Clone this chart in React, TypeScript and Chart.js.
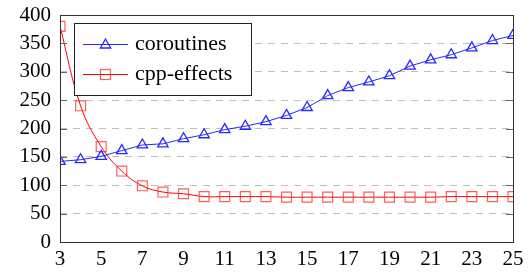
import React, { useEffect, useRef } from 'react';
import { Chart, registerables } from 'chart.js';

Chart.register(...registerables);

const xValues = [3, 4, 5, 6, 7, 8, 9, 10, 11, 12, 13, 14, 15, 16, 17, 18, 19, 20, 21, 22, 23, 24, 25];
const coroutines = [142, 145, 151, 161, 171, 173, 182, 189, 198, 204, 212, 223, 237, 258, 272, 282, 293, 310, 321, 330, 342, 355, 364];
const cppEffects = [380, 240, 168, 125, 99, 88, 85, 80, 80, 80, 80, 79, 79, 79, 79, 79, 79, 79, 79, 80, 80, 80, 80];
const xTicks = [3, 5, 7, 9, 11, 13, 15, 17, 19, 21, 23, 25];
const yTicks = [0, 50, 100, 150, 200, 250, 300, 350, 400];
const seriesLabels = ['coroutines', 'cpp-effects'];

const FONT = 'Liberation Serif';
const BLUE = 'rgb(40,40,255)';
const RED = 'rgb(255,0,0)';
const RED_MARK = 'rgba(255,40,40,0.75)';

function drawTriangle(ctx: CanvasRenderingContext2D, x: number, y: number, r: number) {
  ctx.beginPath();
  ctx.moveTo(x, y - r);
  ctx.lineTo(x + r * Math.sin((2 * Math.PI) / 3), y - r * Math.cos((2 * Math.PI) / 3));
  ctx.lineTo(x + r * Math.sin((4 * Math.PI) / 3), y - r * Math.cos((4 * Math.PI) / 3));
  ctx.closePath();
  ctx.stroke();
}

const framePlugin = {
  id: 'frame',
  afterDatasetsDraw(chart: any) {
    const { ctx, chartArea: a, scales } = chart;
    ctx.save();
    ctx.lineWidth = 1;
    ctx.strokeStyle = '#666';
    yTicks.forEach((v) => {
      const y = Math.round(scales.y.getPixelForValue(v)) + 0.5;
      ctx.beginPath();
      ctx.moveTo(a.left, y);
      ctx.lineTo(a.left + 7, y);
      ctx.moveTo(a.right - 7, y);
      ctx.lineTo(a.right, y);
      ctx.stroke();
    });
    ctx.strokeStyle = '#333';
    ctx.strokeRect(Math.round(a.left) + 0.5, Math.round(a.top) + 0.5, Math.round(a.right - a.left), Math.round(a.bottom - a.top));
    ctx.restore();
  },
  afterDraw(chart: any) {
    const { ctx } = chart;
    ctx.save();
    const bx = 74.5, by = 23.5, bw = 177, bh = 72;
    ctx.fillStyle = '#fff';
    ctx.fillRect(bx, by, bw, bh);
    ctx.strokeStyle = '#222';
    ctx.lineWidth = 1;
    ctx.strokeRect(bx, by, bw, bh);
    const rows = [44, 74];
    const colors = [BLUE, RED];
    rows.forEach((ry, i) => {
      ctx.strokeStyle = colors[i];
      ctx.lineWidth = 1;
      ctx.beginPath();
      ctx.moveTo(83, ry + 0.5);
      ctx.lineTo(128, ry + 0.5);
      ctx.stroke();
      if (i === 0) {
        ctx.lineWidth = 1.3;
        drawTriangle(ctx, 105.5, ry + 1, 6);
      } else {
        ctx.strokeStyle = RED_MARK;
        ctx.lineWidth = 1.2;
        ctx.strokeRect(100.5, ry - 4.5, 10, 10);
      }
      ctx.fillStyle = '#000';
      ctx.font = `22px ${FONT}`;
      ctx.textBaseline = 'alphabetic';
      ctx.textAlign = 'left';
      ctx.fillText(seriesLabels[i], 135, ry + 6);
    });
    ctx.restore();
  },
};

export default function App() {
  const ref = useRef<HTMLCanvasElement | null>(null);
  const warmRef = useRef<HTMLCanvasElement | null>(null);
  useEffect(() => {
    if (!ref.current) return;
    const w = warmRef.current ? warmRef.current.getContext('2d') : null;
    if (w) {
      w.fillStyle = '#000';
      ["18px 'Liberation Serif'", "21px 'Liberation Serif'", '21px Liberation Serif', '22px Liberation Serif'].forEach((f, i) => {
        w.font = f;
        w.fillText('0123456789 coroutines cpp-effects', 5, 20 + i * 22);
      });
    }
    const chart = new Chart(ref.current, {
      type: 'line',
      data: {
        datasets: [
          {
            label: seriesLabels[0],
            data: xValues.map((x, i) => ({ x, y: coroutines[i] })),
            borderColor: BLUE,
            borderWidth: 1,
            pointStyle: 'triangle',
            pointRadius: 6,
            pointBorderColor: BLUE,
            pointBackgroundColor: 'rgba(0,0,0,0)',
            pointBorderWidth: 1.3,
            tension: 0,
            fill: false,
          },
          {
            label: seriesLabels[1],
            data: xValues.map((x, i) => ({ x, y: cppEffects[i] })),
            borderColor: RED,
            borderWidth: 1,
            pointStyle: 'rect',
            pointRadius: 7,
            pointBorderColor: RED_MARK,
            pointBackgroundColor: 'rgba(0,0,0,0)',
            pointBorderWidth: 1.2,
            tension: 0.4,
            fill: false,
          },
        ],
      },
      options: {
        animation: false,
        responsive: false,
        layout: { padding: { top: 15, right: 19, left: 0, bottom: 0 } },
        plugins: { legend: { display: false }, tooltip: { enabled: false } },
        scales: {
          x: {
            type: 'linear',
            min: 3,
            max: 25,
            afterBuildTicks: (scale: any) => {
              scale.ticks = xTicks.map((v) => ({ value: v }));
            },
            afterFit: (scale: any) => {
              scale.height = 34;
              scale.paddingLeft = 0;
              scale.paddingRight = 0;
            },
            grid: { display: false, drawTicks: false },
            border: { display: false },
            ticks: { color: '#000', font: { family: FONT, size: 21 }, padding: 5, maxRotation: 0, autoSkip: false },
          },
          y: {
            type: 'linear',
            min: 0,
            max: 400,
            afterBuildTicks: (scale: any) => {
              scale.ticks = yTicks.map((v) => ({ value: v }));
            },
            afterFit: (scale: any) => {
              scale.width = 60;
              scale.paddingTop = 0;
              scale.paddingBottom = 0;
            },
            grid: {
              display: true,
              drawTicks: false,
              lineWidth: 1,
              color: (c: any) => (c.tick && (c.tick.value === 0 || c.tick.value === 400) ? 'rgba(0,0,0,0)' : 'rgb(190,190,190)'),
            },
            border: { display: false, dash: [7, 6] },
            ticks: { color: '#000', font: { family: FONT, size: 21 }, padding: 9, autoSkip: false },
          },
        },
      },
      plugins: [framePlugin],
    });
    return () => chart.destroy();
  }, []);
  return (
    <div style={{ position: 'fixed', left: 0, top: 0, width: 532, height: 276, background: '#fff' }}>
      <canvas ref={ref} width={532} height={276} style={{ display: 'block' }} />
      <canvas ref={warmRef} width={532} height={100} style={{ display: 'block', position: 'absolute', left: 0, top: 290 }} />
    </div>
  );
}
